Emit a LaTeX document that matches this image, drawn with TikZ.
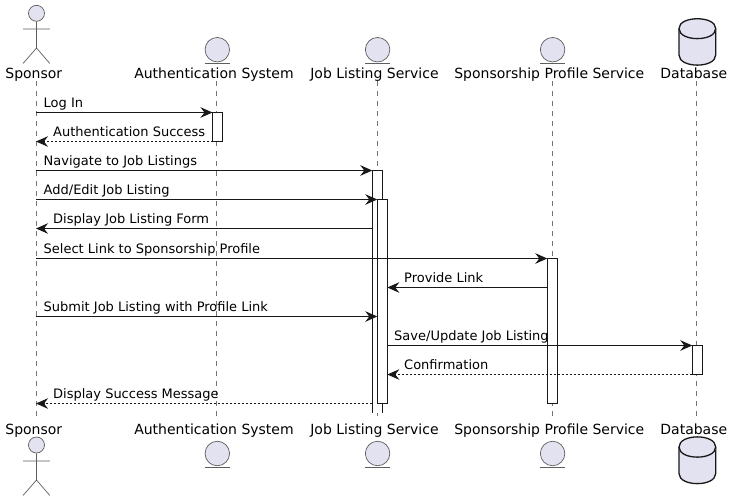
\documentclass[tikz,border=0pt]{standalone}
\usepackage{fontspec}
\setmainfont{DejaVu Sans}
\usetikzlibrary{arrows.meta}
\definecolor{ink}{HTML}{181818}
\definecolor{part}{HTML}{E2E2F0}
\tikzset{
  x=1pt,y=-1pt,
  lifeline/.style={draw=ink!60,line width=0.5pt,dash pattern=on 5pt off 5pt},
  actbox/.style={draw=ink,fill=white,line width=1pt,minimum width=10pt,inner sep=0pt,outer sep=0pt,anchor=north},
  actfill/.style={fill=white,minimum width=10pt,inner sep=0pt,outer sep=0pt,anchor=north},
  msg/.style={draw=ink,line width=1pt,-{Stealth[length=12pt,width=10.5pt,inset=4pt]}},
  ret/.style={msg,dash pattern=on 2pt off 2pt},
  msglabel/.style={font=\fontsize{13}{15}\selectfont,anchor=base west,inner sep=0pt,text=black},
  partname/.style={font=\fontsize{14}{16}\selectfont,anchor=base,inner sep=0pt,text=black},
  figure/.style={draw=ink!70,fill=part,line width=0.7pt},
  bar/.style={draw=ink!70,line width=0.7pt},
  dbbody/.style={draw=ink,fill=part,line width=1.3pt},
}
\begin{document}
\begin{tikzpicture}
\useasboundingbox (0,0) rectangle (733,501);
% participant names
\node[partname] (nS)  at (33.8,78) {Sponsor};
\node[partname] (nA)  at (214,78) {Authentication System};
\node[partname] (nJ)  at (374.5,78) {Job Listing Service};
\node[partname] (nP)  at (549.3,78) {Sponsorship Profile Service};
\node[partname] (nD)  at (693.8,78) {Database};
\node[partname] (bS)  at (33.8,434) {Sponsor};
\node[partname] (bA)  at (214,434) {Authentication System};
\node[partname] (bJ)  at (374.5,434) {Job Listing Service};
\node[partname] (bP)  at (549.3,434) {Sponsorship Profile Service};
\node[partname] (bD)  at (693.8,434) {Database};
% lifelines
\coordinate (tS) at (36,81);    \coordinate (eS) at (36,416);
\coordinate (tA) at (216.5,81); \coordinate (eA) at (216.5,416);
\coordinate (tJ) at (377.3,81); \coordinate (eJ) at (377.3,416);
\coordinate (tP) at (552.3,81); \coordinate (eP) at (552.3,416);
\coordinate (tD) at (696.5,81); \coordinate (eD) at (696.5,416);
\foreach \p in {S,A,J,P,D} \draw[lifeline] (t\p) -- (e\p);
% actor top
\node[figure,circle,minimum size=16pt,inner sep=0pt] (headT) at (36.5,13.3) {};
\coordinate (hipT) at (36.5,48);
\coordinate (armLT) at (23,29); \coordinate (armRT) at (49.8,29);
\coordinate (legLT) at (23,63.5); \coordinate (legRT) at (49.8,63.5);
\draw[bar] (headT) -- (hipT) (armLT) -- (armRT) (legLT) -- (hipT) -- (legRT);
% actor bottom
\node[figure,circle,minimum size=16pt,inner sep=0pt] (headB) at (36.5,445) {};
\coordinate (hipB) at (36.5,480);
\coordinate (armLB) at (23,461); \coordinate (armRB) at (49.8,461);
\coordinate (legLB) at (23,495.5); \coordinate (legRB) at (49.8,495.5);
\draw[bar] (headB) -- (hipB) (armLB) -- (armRB) (legLB) -- (hipB) -- (legRB);
% entities
\foreach \nm/\cx in {A/217.3,J/377.6,P/552.6}{
  \node[figure,circle,minimum size=24.5pt,inner sep=0pt] (ec\nm) at (\cx,49.7) {};
  \draw[bar] ([xshift=-12.3pt,yshift=-13.5pt]ec\nm.center) -- ([xshift=12.3pt,yshift=-13.5pt]ec\nm.center);
  \node[figure,circle,minimum size=24.5pt,inner sep=0pt] (fc\nm) at (\cx,453.5) {};
  \draw[bar] ([xshift=-12.3pt,yshift=-13.7pt]fc\nm.center) -- ([xshift=12.3pt,yshift=-13.7pt]fc\nm.center);
}
% databases
\draw[dbbody] (679,28.5) .. controls (679,15.5) and (715.7,15.5) .. (715.7,28.5)
  -- (715.7,55) .. controls (715.7,68.5) and (679,68.5) .. (679,55) -- cycle;
\draw[dbbody] (679,28.5) .. controls (679,42) and (715.7,42) .. (715.7,28.5);
\draw[dbbody] (679,447) .. controls (679,433.5) and (715.7,433.5) .. (715.7,447)
  -- (715.7,473.5) .. controls (715.7,487) and (679,487) .. (679,473.5) -- cycle;
\draw[dbbody] (679,447) .. controls (679,460.5) and (715.7,460.5) .. (715.7,447);
% activations
\node[actbox,minimum height=29pt] (aA) at (217.5,112.5) {};
\node[actfill,minimum height=242pt] (aJ) at (377.3,170.5) {};
\draw[ink,line width=1pt] (aJ.south west) -- (aJ.north west) -- (aJ.north east) -- (aJ.south east);
\node[actbox,minimum height=204pt] (aK) at (382.3,199.5) {};
\node[actbox,minimum height=145pt] (aP) at (552.3,258.5) {};
\node[actbox,minimum height=29pt] (aD) at (697.3,345.5) {};
% message ends on the sponsor lifeline
\coordinate (m1)  at (36,112.5);
\coordinate (m2)  at (36,141.5);
\coordinate (m3)  at (36,170.5);
\coordinate (m4)  at (36,199.5);
\coordinate (m5)  at (36,228.5);
\coordinate (m6)  at (36,258.5);
\coordinate (m7)  at (36,287.5);
\coordinate (m8)  at (36,316.5);
\coordinate (m11) at (36,403.5);
% messages
\draw[msg] (m1) -- (aA.north west);
\draw[ret] (aA.south west) -- (m2);
\draw[msg] (m3) -- (aJ.north west);
\draw[msg] (m4) -- (aK.north west);
\draw[msg] (aJ.west |- m5) -- (m5);
\draw[msg] (m6) -- (aP.north west);
\draw[msg] (aP.west |- m7) -- (aK.east |- m7);
\draw[msg] (m8) -- (aK.west |- m8);
\draw[msg] (aK.east |- aD.north) -- (aD.north west);
\draw[ret] (aD.south west) -- (aK.east |- aD.south);
\draw[ret] (aJ.west |- m11) -- (m11);
% message labels
\node[msglabel] (l1)  at (43.5,107) {Log In};
\node[msglabel] (l2)  at (53,136) {Authentication Success};
\node[msglabel] (l3)  at (43.5,165) {Navigate to Job Listings};
\node[msglabel] (l4)  at (43.5,194) {Add/Edit Job Listing};
\node[msglabel] (l5)  at (53,223) {Display Job Listing Form};
\node[msglabel] (l6)  at (43.5,253) {Select Link to Sponsorship Profile};
\node[msglabel] (l7)  at (404,282) {Provide Link};
\node[msglabel] (l8)  at (43.5,311) {Submit Job Listing with Profile Link};
\node[msglabel] (l9)  at (394,340) {Save/Update Job Listing};
\node[msglabel] (l10) at (404,369) {Confirmation};
\node[msglabel] (l11) at (53,398) {Display Success Message};
\end{tikzpicture}
\end{document}
